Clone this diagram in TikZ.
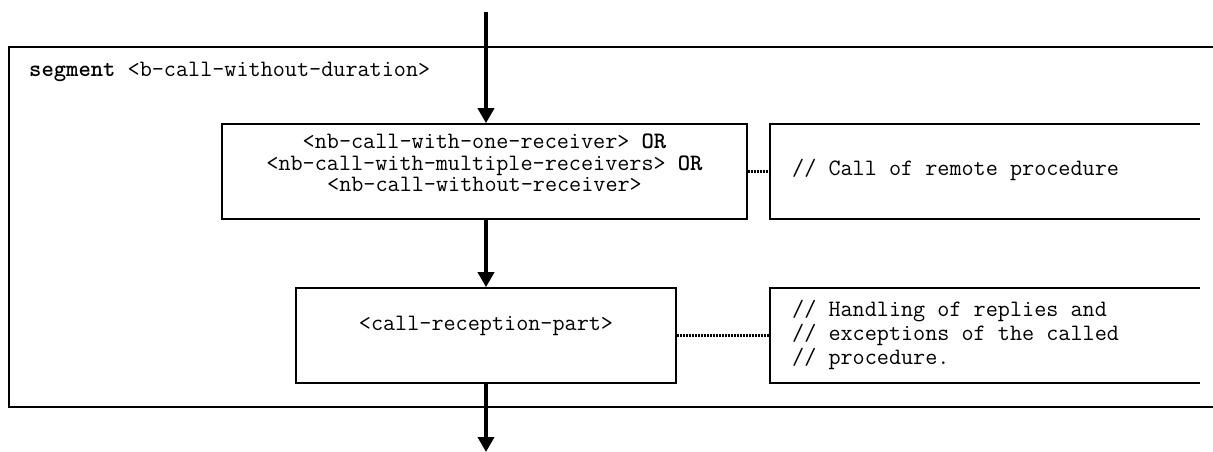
\documentclass[tikz,border=0pt]{standalone}
\usepackage{fontspec}
\usetikzlibrary{arrows.meta}
\tikzset{
  frame/.style={line width=1.6pt},
  stepbox/.style={draw, line width=1.6pt, inner sep=0pt},
  txt/.style={inner sep=0pt, font=\ttfamily\fontsize{23.5}{21.5}\selectfont},
  flow/.style={line width=3.6pt, -{Triangle[length=15pt,width=16pt]}},
  dotline/.style={line width=2.4pt, dash pattern=on 1.8pt off 1.2pt},
}
\begin{document}
\begin{tikzpicture}[x=1pt,y=-1pt]
\useasboundingbox (0,0) rectangle (1213,452);
% outer segment frame (open to the right)
\draw[frame] (1213,47) -- (9,47) -- (9,407) -- (1213,407);
\node[txt, anchor=west] (seg) at (29,72) {\textbf{segment} <b-call-without-duration>};
% main boxes
\node[stepbox, minimum width=525pt, minimum height=95pt] (b1) at (484.5,171.5) {};
\node[txt, align=center] (t1) at (484.5,163) {<nb-call-with-one-receiver> \textbf{OR}\\<nb-call-with-multiple-receivers> \textbf{OR}\\<nb-call-without-receiver>};
\node[stepbox, minimum width=380pt, minimum height=95pt] (b2) at (486,335.5) {};
\node[txt] (t2) at (486,326) {<call-reception-part>};
% comment boxes (open to the right)
\node[inner sep=0pt, minimum width=430pt, minimum height=95pt] (c1) at (985,171.5) {};
\draw[frame] (c1.north east) -- (c1.north west) -- (c1.south west) -- (c1.south east);
\node[txt, anchor=west] (ct1) at (792,170) {// Call of remote procedure};
\node[inner sep=0pt, minimum width=430pt, minimum height=95pt] (c2) at (985,335.5) {};
\draw[frame] (c2.north east) -- (c2.north west) -- (c2.south west) -- (c2.south east);
\node[txt, anchor=west, align=left, font=\ttfamily\fontsize{23.5}{24}\selectfont] (ct2) at (792,335) {// Handling of replies and\\// exceptions of the called\\// procedure.};
% connectors
\coordinate (top) at (486,12);
\coordinate (bot) at (486,452);
\draw[flow] (top) -- (top |- b1.north);
\draw[flow] (b1.south -| b2.north) -- (b2.north);
\draw[flow] (b2.south) -- (bot);
\draw[dotline] (b1.east) -- (c1.west);
\draw[dotline] (b2.east) -- (c2.west);
\end{tikzpicture}
\end{document}
